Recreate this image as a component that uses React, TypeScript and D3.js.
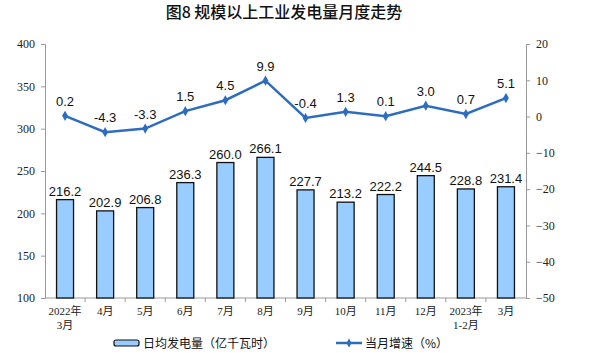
import React, { useEffect, useRef } from 'react';
import * as d3 from 'd3';

const months = ['2022年\n3月', '4月', '5月', '6月', '7月', '8月', '9月', '10月', '11月', '12月', '2023年\n1-2月', '3月'];
const dailyOutput = [216.2, 202.9, 206.8, 236.3, 260.0, 266.1, 227.7, 213.2, 222.2, 244.5, 228.8, 231.4];
const growth = [0.2, -4.3, -3.3, 1.5, 4.5, 9.9, -0.4, 1.3, 0.1, 3.0, 0.7, 5.1];
const leftTicks = [100, 150, 200, 250, 300, 350, 400];
const rightTicks = [-50, -40, -30, -20, -10, 0, 10, 20];

const W = 594, H = 353;
const axisFont = '"Liberation Serif", "Times New Roman", serif';
const labelFont = '"Liberation Sans", Arial, sans-serif';
const cjkFont = '"Liberation Serif", "Noto Sans CJK SC", serif';

export default function App() {
    const ref = useRef<SVGSVGElement>(null);

    useEffect(() => {
        const svg = d3.select(ref.current);
        svg.selectAll('*').remove();

        // plot area
        const left = 45, right = 526, top = 44, bottom = 298;

        const x = d3.scaleBand().domain(months).range([left, right]);
        const yL = d3.scaleLinear().domain([100, 400]).range([bottom, top]);
        const yR = d3.scaleLinear().domain([-50, 20]).range([bottom, top]);

        // title
        svg.append('text')
            .attr('x', 284).attr('y', 18)
            .attr('text-anchor', 'middle')
            .style('font-family', '"Noto Sans CJK SC", sans-serif')
            .style('font-size', '16px')
            .style('font-weight', '500')
            .attr('fill', '#111')
            .text('图8  规模以上工业发电量月度走势');

        // left axis
        const gL = svg.append('g').attr('transform', `translate(${left},0)`)
            .call(d3.axisLeft(yL).tickValues(leftTicks).tickSize(4).tickPadding(6));
        gL.select('.domain').attr('stroke', '#999');
        gL.selectAll('.tick line').attr('stroke', '#999');
        gL.selectAll('.tick text').style('font-family', axisFont).style('font-size', '12px').attr('fill', '#222');

        // right axis
        const gR = svg.append('g').attr('transform', `translate(${right},0)`)
            .call(d3.axisRight(yR).tickValues(rightTicks).tickSize(4).tickPadding(6));
        gR.select('.domain').attr('stroke', '#999');
        gR.selectAll('.tick line').attr('stroke', '#999');
        gR.selectAll('.tick text').style('font-family', axisFont).style('font-size', '12px').attr('fill', '#222');

        // bottom axis line with ticks at category boundaries
        svg.append('line')
            .attr('x1', left).attr('x2', right).attr('y1', bottom).attr('y2', bottom)
            .attr('stroke', '#999');
        svg.selectAll('.xtick')
            .data(months.slice(1))
            .enter()
            .append('line')
            .attr('x1', d => x(d)!).attr('x2', d => x(d)!)
            .attr('y1', bottom).attr('y2', bottom + 4)
            .attr('stroke', '#999');

        // x labels
        const xl = svg.selectAll('.xlabel')
            .data(months)
            .enter()
            .append('text')
            .attr('text-anchor', 'middle')
            .style('font-family', cjkFont)
            .style('font-size', '11px')
            .attr('fill', '#222');
        xl.each(function (d) {
            const t = d3.select(this);
            d.split('\n').forEach((part, i) => {
                t.append('tspan')
                    .attr('x', x(d)! + x.bandwidth() / 2)
                    .attr('y', 315 + i * 14)
                    .text(part);
            });
        });

        // bars
        const bw = 17;
        svg.selectAll('.bar')
            .data(dailyOutput)
            .enter()
            .append('rect')
            .attr('x', (d, i) => x(months[i])! + x.bandwidth() / 2 - bw / 2)
            .attr('y', d => yL(d))
            .attr('width', bw)
            .attr('height', d => bottom - yL(d))
            .attr('fill', '#99CCFF')
            .attr('stroke', '#111')
            .attr('stroke-width', 1.3);

        svg.selectAll('.barlabel')
            .data(dailyOutput)
            .enter()
            .append('text')
            .attr('x', (d, i) => x(months[i])! + x.bandwidth() / 2)
            .attr('y', d => yL(d) - 4)
            .attr('text-anchor', 'middle')
            .style('font-family', labelFont)
            .style('font-size', '13px')
            .attr('fill', '#111')
            .text(d => d.toFixed(1));

        // growth line
        const line = d3.line<number>()
            .x((d, i) => x(months[i])! + x.bandwidth() / 2)
            .y(d => yR(d));
        svg.append('path')
            .datum(growth)
            .attr('d', line)
            .attr('fill', 'none')
            .attr('stroke', '#2E6DBE')
            .attr('stroke-width', 2.5);

        svg.selectAll('.pt')
            .data(growth)
            .enter()
            .append('path')
            .attr('d', d3.symbol().type(d3.symbolDiamond).size(30))
            .attr('transform', (d, i) => `translate(${x(months[i])! + x.bandwidth() / 2},${yR(d)})`)
            .attr('fill', '#2E6DBE');

        svg.selectAll('.ptlabel')
            .data(growth)
            .enter()
            .append('text')
            .attr('x', (d, i) => x(months[i])! + x.bandwidth() / 2)
            .attr('y', d => yR(d) - 10)
            .attr('text-anchor', 'middle')
            .style('font-family', labelFont)
            .style('font-size', '13px')
            .attr('fill', '#111')
            .text(d => d.toFixed(1));

        // legend
        const ly = 343;
        svg.append('rect')
            .attr('x', 114).attr('y', ly - 3).attr('width', 25).attr('height', 6)
            .attr('rx', 2)
            .attr('fill', '#99CCFF').attr('stroke', '#111').attr('stroke-width', 1.2);
        svg.append('text')
            .attr('x', 143).attr('y', ly + 5)
            .style('font-family', '"Noto Sans CJK SC", sans-serif')
            .style('font-size', '12px')
            .attr('fill', '#111')
            .text('日均发电量（亿千瓦时）');

        svg.append('line')
            .attr('x1', 336).attr('x2', 362).attr('y1', ly).attr('y2', ly)
            .attr('stroke', '#2E6DBE').attr('stroke-width', 2.5);
        svg.append('path')
            .attr('d', d3.symbol().type(d3.symbolDiamond).size(24))
            .attr('transform', `translate(349,${ly})`)
            .attr('fill', '#2E6DBE');
        svg.append('text')
            .attr('x', 365).attr('y', ly + 5)
            .style('font-family', '"Noto Sans CJK SC", sans-serif')
            .style('font-size', '12px')
            .attr('fill', '#111')
            .text('当月增速（%）');
    }, []);

    return (
        <svg ref={ref} width={W} height={H}
            style={{ position: 'absolute', left: 0, top: 0, background: '#fff' }} />
    );
}
